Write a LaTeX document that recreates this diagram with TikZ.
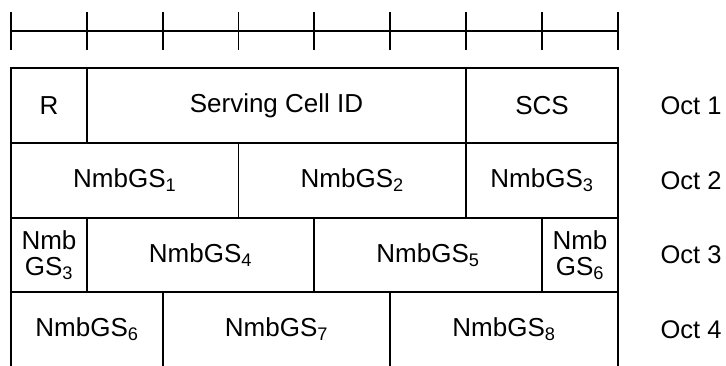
\documentclass[tikz,border=0pt]{standalone}
\usepackage{fontspec}
\setmainfont{Liberation Sans}
\begin{document}
\begin{tikzpicture}[x=1pt,y=-1pt,
  line width=1.3pt,
  cell/.style={draw, rectangle, anchor=north west, inner sep=0pt, outer sep=0pt, align=center,
    font=\fontsize{26}{26}\selectfont},
  octlbl/.style={anchor=west, inner sep=0pt, font=\fontsize{25.5}{26}\selectfont}]
\useasboundingbox (0,0) rectangle (726,365);
\fill[white] (0,0) rectangle (726,365);
\clip (0,0) rectangle (726,365);
% bit ruler
\coordinate (rl) at (11,31);
\coordinate (rr) at (618,31);
\draw (rl) -- (rr);
\foreach \x in {11,87,163,238.5,314,390,466,542,618}
  \draw (\x,12) -- (\x,50);
% Octet 1
\node[cell, minimum width=76pt, minimum height=75pt] (r) at (11,68) {R};
\node[cell, minimum width=379pt, minimum height=75pt] (scid) at (87,68) {Serving Cell ID};
\node[cell, minimum width=152pt, minimum height=75pt] (scs) at (466,68) {SCS};
% Octet 2
\node[cell, minimum width=227.5pt, minimum height=75pt] (g1) at (11,143) {NmbGS\textsubscript{1}};
\node[cell, minimum width=227.5pt, minimum height=75pt] (g2) at (238.5,143) {NmbGS\textsubscript{2}};
\node[cell, minimum width=152pt, minimum height=75pt] (g3) at (466,143) {NmbGS\textsubscript{3}};
% Octet 3
\node[cell, minimum width=76pt, minimum height=74pt] (g3b) at (11,218) {Nmb\\GS\textsubscript{3}};
\node[cell, minimum width=227pt, minimum height=74pt] (g4) at (87,218) {NmbGS\textsubscript{4}};
\node[cell, minimum width=228pt, minimum height=74pt] (g5) at (314,218) {NmbGS\textsubscript{5}};
\node[cell, minimum width=76pt, minimum height=74pt] (g6a) at (542,218) {Nmb\\GS\textsubscript{6}};
% Octet 4
\node[cell, minimum width=152pt, minimum height=75pt] (g6b) at (11,292) {NmbGS\textsubscript{6}};
\node[cell, minimum width=227pt, minimum height=75pt] (g7) at (163,292) {NmbGS\textsubscript{7}};
\node[cell, minimum width=228pt, minimum height=75pt] (g8) at (390,292) {NmbGS\textsubscript{8}};
% Octet labels
\node[octlbl] (o1) at (660,105.5) {Oct 1};
\node[octlbl] (o2) at (660,180.5) {Oct 2};
\node[octlbl] (o3) at (660,255) {Oct 3};
\node[octlbl] (o4) at (660,329.5) {Oct 4};
\end{tikzpicture}
\end{document}
